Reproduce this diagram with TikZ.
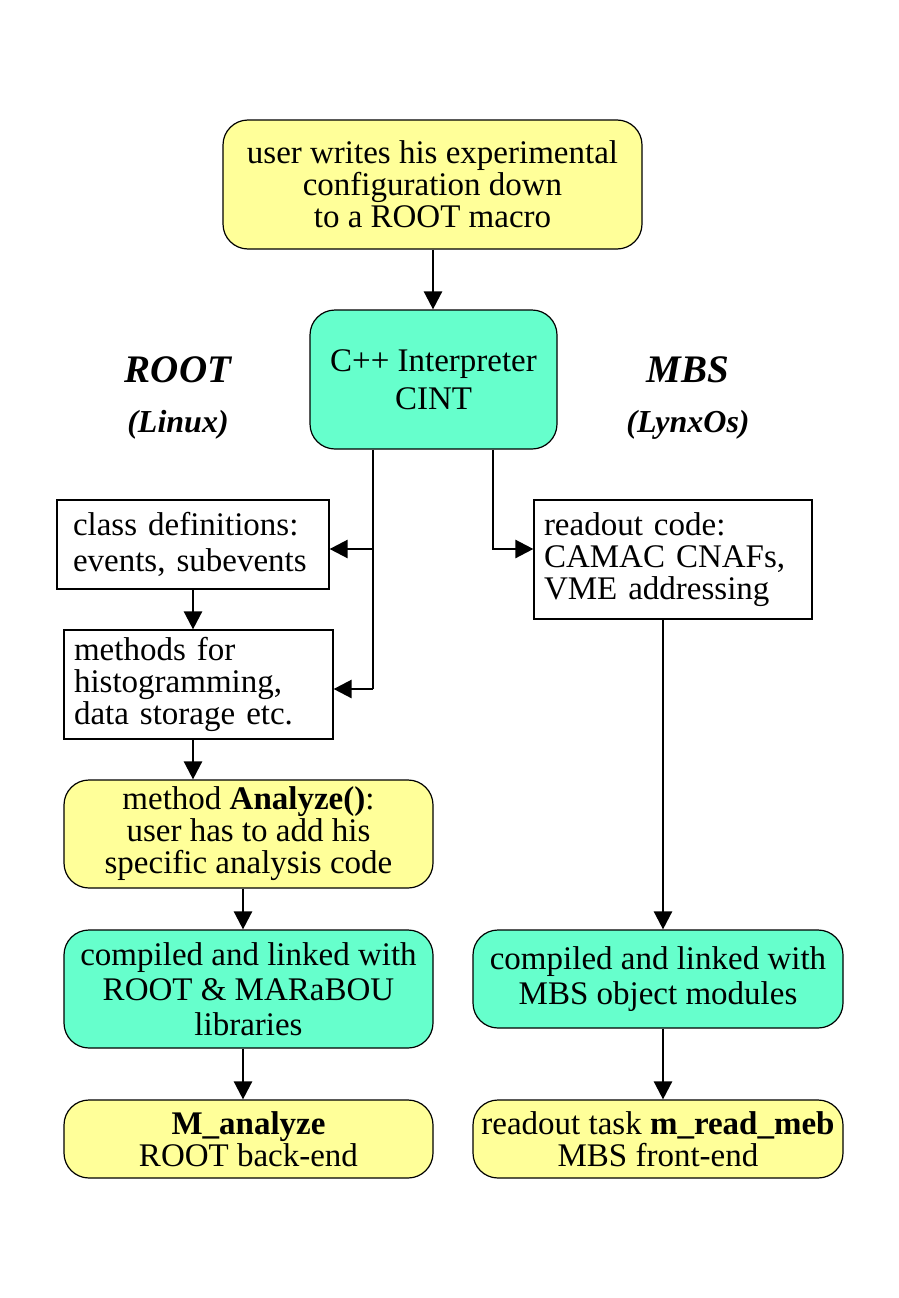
\documentclass[tikz,border=0pt]{standalone}
\usepackage{fontspec}
\setmainfont{Liberation Serif}
\usetikzlibrary{arrows.meta}
\definecolor{boxyellow}{HTML}{FFFF99}
\definecolor{boxcyan}{HTML}{66FFCC}
\tikzstyle{every node}=[font=\fontsize{33}{32}\selectfont]
\tikzstyle{yellowbox}=[draw=black,line width=1.2pt,fill=boxyellow,rounded corners=25pt,align=center,inner sep=0pt]
\tikzstyle{cyanbox}=[draw=black,line width=1.2pt,fill=boxcyan,rounded corners=25pt,align=center,inner sep=0pt]
\tikzstyle{whitebox}=[draw=black,line width=1.2pt,fill=white,align=left,inner xsep=10pt,inner ysep=0pt]
\tikzstyle{oslabel}=[font=\fontsize{39}{40}\selectfont\bfseries\itshape]
\tikzstyle{flow}=[line width=2.5pt,-{Triangle[length=18pt,width=18pt]}]
\begin{document}
\begin{tikzpicture}[x=1pt,y=-1pt]
\useasboundingbox (0,0) rectangle (898,1298);
% top and interpreter
\node[yellowbox,minimum width=419pt,minimum height=129pt] (U1) at (432.5,184.5)
  {user writes his experimental\\configuration down\\to a ROOT macro};
\node[cyanbox,minimum width=247pt,minimum height=139pt] (I1) at (433.5,379.5)
  {C++ Interpreter\\[6pt]CINT};
\node[oslabel] (T1) at (178,370) {ROOT};
\node[oslabel,font=\fontsize{32}{32}\selectfont\bfseries\itshape] (T2) at (178,425) {(Linux)};
\node[oslabel] (T3) at (688,370) {MBS};
\node[oslabel,font=\fontsize{32}{32}\selectfont\bfseries\itshape] (T4) at (688,425) {(LynxOs)};
% ROOT side
\node[whitebox,inner xsep=16pt,text width=240pt,minimum height=89pt] (R1) at (193,544.5)
  {class definitions:\\[4pt]events, subevents};
\node[whitebox,text width=249pt,minimum height=109pt] (R2) at (198.5,684.5)
  {methods for\\histogramming,\\data storage etc.};
\node[yellowbox,minimum width=369pt,minimum height=108pt] (R3) at (248.5,834)
  {method \textbf{Analyze()}:\\user has to add his\\specific analysis code};
\node[cyanbox,minimum width=369pt,minimum height=118pt] (R4) at (248.5,989)
  {compiled and linked with\\[3pt]ROOT \& MARaBOU\\[3pt]libraries};
\node[yellowbox,minimum width=369pt,minimum height=78pt] (R5) at (248.5,1139)
  {\textbf{M\_analyze}\\ROOT back-end};
% MBS side
\node[whitebox,text width=258pt,minimum height=119pt] (M1) at (673,559.5)
  {readout code:\\CAMAC CNAFs,\\VME addressing};
\node[cyanbox,minimum width=370pt,minimum height=98pt] (M2) at (658,979)
  {compiled and linked with\\[3pt]MBS object modules};
\node[yellowbox,minimum width=370pt,minimum height=78pt] (M3) at (658,1139)
  {readout task \textbf{m\_read\_meb}\\MBS front-end};
% connectors
\coordinate (X1) at (433,0);
\coordinate (X2) at (373,0);
\coordinate (X3) at (493,0);
\coordinate (X4) at (193,0);
\coordinate (X5) at (243,0);
\coordinate (X6) at (663,0);
\coordinate (J1) at (373,549);
\coordinate (J2) at (373,689);
\coordinate (J3) at (493,549);
\draw[flow] (U1.south -| X1) -- (I1.north -| X1);
\draw[line width=2.5pt] (I1.south -| X2) -- (J2);
\draw[flow] (J1) -- (R1.east |- J1);
\draw[flow] (J2) -- (R2.east |- J2);
\draw[flow] (I1.south -| X3) -- (J3) -- (M1.west |- J3);
\draw[flow] (R1.south -| X4) -- (R2.north -| X4);
\draw[flow] (R2.south -| X4) -- (R3.north -| X4);
\draw[flow] (R3.south -| X5) -- (R4.north -| X5);
\draw[flow] (R4.south -| X5) -- (R5.north -| X5);
\draw[flow] (M1.south -| X6) -- (M2.north -| X6);
\draw[flow] (M2.south -| X6) -- (M3.north -| X6);
\end{tikzpicture}
\end{document}
